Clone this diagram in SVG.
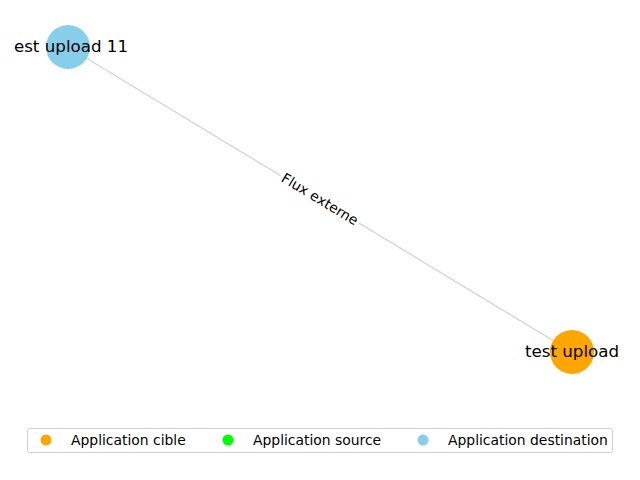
<svg xmlns="http://www.w3.org/2000/svg" width="640" height="480" viewBox="0 0 640 480">
<style>
.lbl{font-family:"DejaVu Sans",sans-serif;font-size:16.7px;fill:#000;text-anchor:middle;dominant-baseline:central}
.elbl{font-family:"DejaVu Sans",sans-serif;font-size:13.9px;fill:#000;text-anchor:middle;dominant-baseline:central}
.leg{font-family:"DejaVu Sans",sans-serif;font-size:13.9px;fill:#000;dominant-baseline:central}
</style>
<rect width="640" height="480" fill="#fff"/>
<g id="connectors">
<line x1="68" y1="47" x2="572" y2="352" stroke="#d3d3d3" stroke-width="1.3"/>
<g transform="translate(320,199) rotate(31.18)">
<rect x="-46" y="-10" width="92" height="20" fill="#fff"/>
<text class="elbl" x="0" y="0">Flux externe</text>
</g>
</g>
<g id="node-dest">
<circle cx="68" cy="47" r="22" fill="#87ceeb"/>
<text class="lbl" x="71" y="46">est upload 11</text>
</g>
<g id="node-cible">
<circle cx="572" cy="352" r="22" fill="#ffa500"/>
<text class="lbl" x="572" y="351">test upload</text>
</g>
<g id="legend">
<rect x="27.5" y="428.5" width="585" height="24" rx="2" fill="#fff" stroke="#d0d0d0"/>
<circle cx="46" cy="440" r="5.5" fill="#ffa500"/>
<text class="leg" x="71" y="439.5">Application cible</text>
<circle cx="228" cy="440" r="5.5" fill="#00ff00"/>
<text class="leg" x="253" y="439.5">Application source</text>
<circle cx="423" cy="440" r="5.5" fill="#87ceeb"/>
<text class="leg" x="448" y="439.5">Application destination</text>
</g>
</svg>
